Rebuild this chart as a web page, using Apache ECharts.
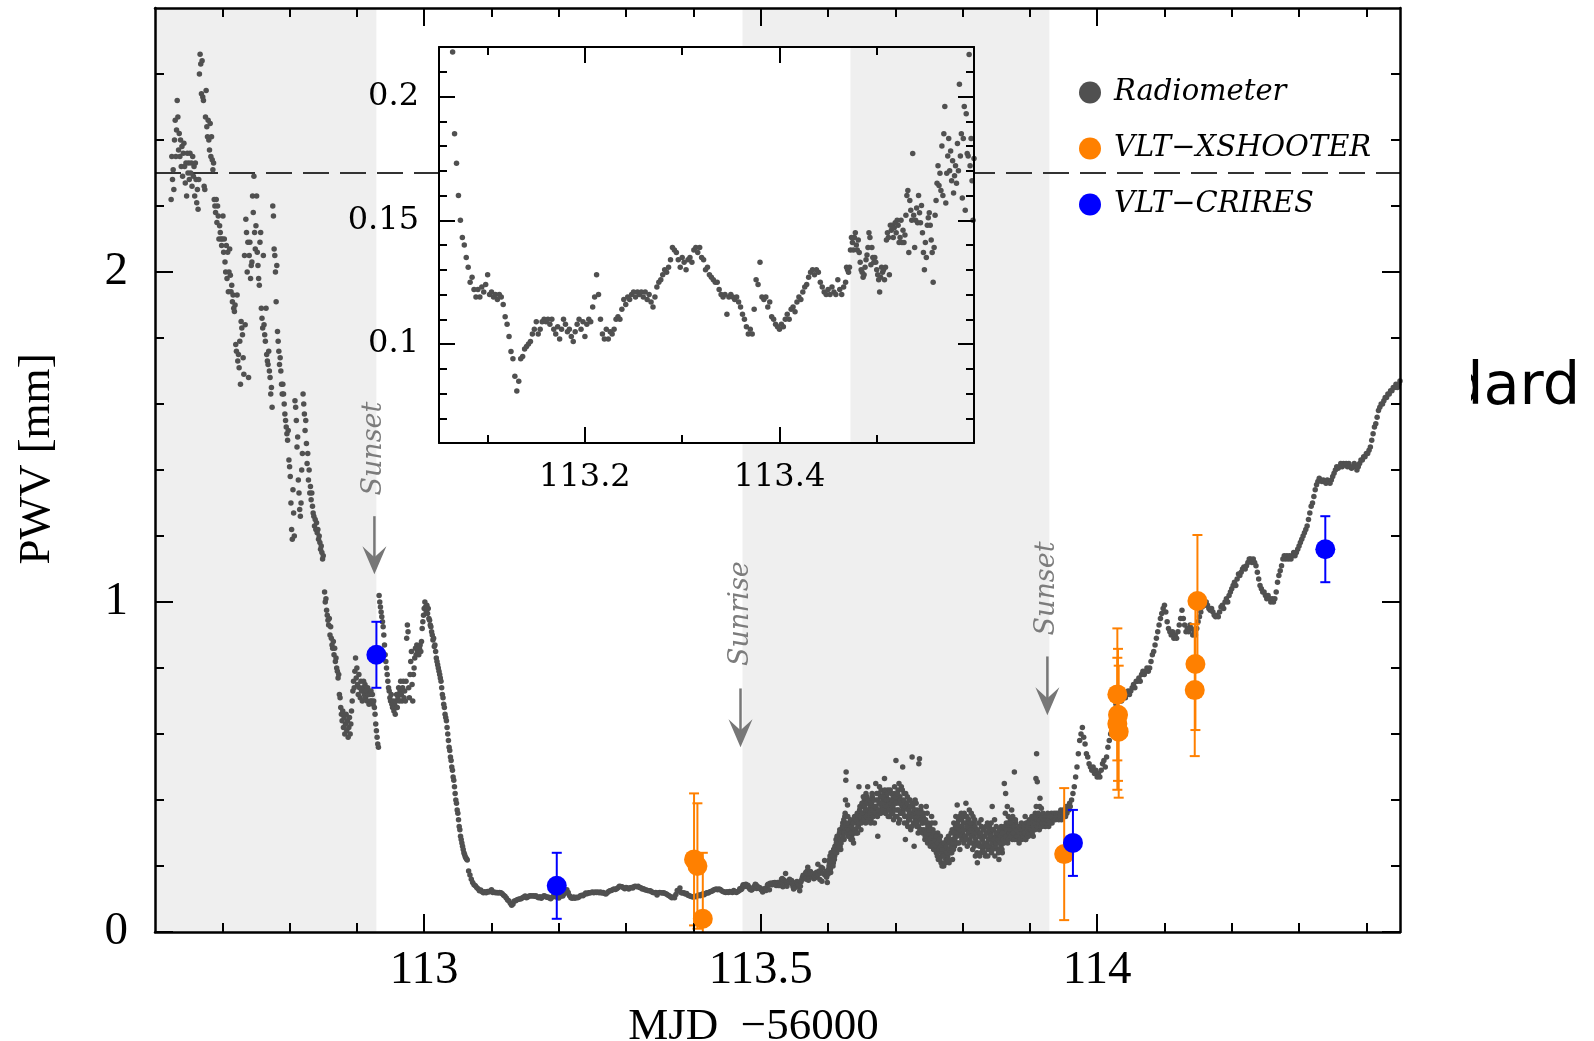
<!DOCTYPE html>
<html>
<head>
<meta charset="utf-8">
<title>PWV radiometer vs VLT spectrographs</title>
<script src="https://cdn.jsdelivr.net/npm/echarts@6/dist/echarts.min.js"></script>
<style>
  html, body { margin: 0; padding: 0; background: #fff; }
  #chart { width: 1594px; height: 1041px; }
</style>
</head>
<body>
<div id="chart"></div>
<script>
// ---------------------------------------------------------------------------
// Radiometer PWV [mm], evenly sampled stretches (start MJD-56000, step, values)
// ---------------------------------------------------------------------------
const pwvA_t0 = 112.624, pwvA_dt = 0.001;
const pwvA = [
  2.22,2.35,2.28,2.31,2.25,2.40,2.46,2.35,2.43,2.52,
  2.47,2.37,2.42,2.35,2.40,2.32,2.38,2.29,2.36,2.39,
  2.32,2.27,2.33,2.23,2.36,2.30,2.33,2.28,2.36,2.30,
  2.33,2.26,2.35,2.29,2.32,2.23,2.33,2.28,2.21,2.25,
  2.19,2.28,2.60,2.66,2.63,2.54,2.64,2.53,2.52,2.26,
  2.25,2.47,2.55,2.44,2.41,2.46,2.40,2.37,2.45,2.35,
  2.41,2.34,2.31,2.33,2.22,2.20,2.18,2.22,2.15,2.20,
  2.17,2.10,2.14,2.12,2.10,2.08
];

const pwvB_t0 = 112.700, pwvB_dt = 0.001;
const pwvB = [
  2.10,2.17,2.06,2.10,2.03,2.00,2.08,1.98,2.06,1.94,
  2.00,2.07,1.99,1.94,1.96,1.91,1.93,1.89,1.88,1.90,
  1.78,1.76,1.93,1.73,1.75,1.71,1.79,1.66,1.85,1.83,
  1.81,1.74,1.69,2.05,1.84,2.16,2.12,2.00,2.09,1.68,
  2.05,2.09,1.98,2.02,2.03,2.23,2.18,2.29,2.12,2.07,
  2.14,2.23,2.06,2.02,1.98,1.96,2.09,2.12,1.89,1.86,
  1.83,2.05,1.84,1.81,1.79,1.89,1.75,1.73,1.72,1.76,
  1.70,1.68,1.63,1.65,1.59,2.20,2.17,2.07,2.05,2.00,
  1.91,2.02,1.82,1.79,1.76,1.72,1.74,1.70,1.66,1.63,
  1.66,1.63,1.60,1.57,1.55,1.53,1.51,1.49,1.52,1.43,
  1.41,1.38,1.30,1.22,1.19,1.34,1.27,1.20,1.61,1.59,
  1.55,1.47,1.50,1.37,1.33,1.28,1.26,1.30,1.40,1.45,
  1.63,1.60,1.57,1.52,1.55,1.48,1.42,1.45,1.37,1.40,
  1.33,1.35,1.31,1.33,1.29,1.27,1.26,1.23,1.25,1.22,
  1.24,1.21,1.22,1.19,1.20,1.18,1.16,1.17,1.15,1.13,
  1.14
];

const pwvC_t0 = 112.852, pwvC_dt = 0.001;
const pwvC = [
  1.03,1.00,1.01,0.975,0.96,0.945,0.93,0.95,0.90,0.925,
  0.89,0.87,0.86,0.88,0.84,0.86,0.82,0.83,0.80,0.79,
  0.77,0.78,0.72,0.71,0.68,0.66,0.64,0.67,0.62,0.65,
  0.60,0.63,0.66,0.61,0.64,0.59,0.62,0.65,0.60,0.63,
  0.67,0.70,0.73,0.76,0.74,0.79,0.83,0.77,0.80,0.75,
  0.72,0.78,0.74,0.71,0.76,0.73,0.70,0.74,0.76,0.72,
  0.75,0.71,0.73,0.70,0.74,0.72,0.69,0.72,0.70,0.73,
  0.70,0.72,0.69,0.70,0.68,0.66,0.63,0.61,0.59,0.57,
  0.56,1.02,1.00,0.985,0.97,0.955,0.94,0.925,0.90,0.87,
  0.84,0.82,0.80,0.78,0.76,0.74,0.73,0.71,0.70,0.72,
  0.69,0.68,0.70,0.67,0.69,0.66,0.70,0.72,0.68,0.71,
  0.74,0.70,0.73,0.76,0.72,0.70,0.74,0.76,0.71,0.73,
  0.70,0.76,0.89,0.93,0.91,0.74,0.71,0.78,0.82,0.85,
  0.75,0.70,0.78,0.80,0.83,0.86,0.84,0.87,0.85,0.86,
  0.84,0.86,0.87,0.85,0.88,0.92,0.94,0.96,0.98,1.00,
  0.985,0.97,0.99,0.965,0.98,0.95,0.945,0.93,0.925,0.91,
  0.90,0.885,0.89,0.865,0.87,0.85,0.83,0.82,0.81,0.80,
  0.79,0.78,0.77,0.76,0.74,0.72,0.71,0.69,0.68,0.66,
  0.65,0.64,0.62,0.60,0.58,0.56,0.55,0.53,0.52,0.50,
  0.49,0.47,0.46,0.44,0.42,0.40,0.39,0.37,0.36,0.34,
  0.32,0.31,0.29,0.28,0.27,0.26,0.25,0.24,0.235,0.228,
  0.224,0.221
];

const pwvD_t0 = 113.064, pwvD_dt = 0.002;
const pwvD = [
  0.218,0.185,0.173,0.160,0.150,0.143,0.140,0.135,0.131,0.125,
  0.127,0.122,0.119,0.122,0.119,0.123,0.121,0.124,0.128,0.120,
  0.121,0.119,0.120,0.118,0.120,0.119,0.116,0.111,0.108,0.103,
  0.097,0.094,0.087,0.081,0.085,0.094,0.095,0.098,0.099,0.100,
  0.101,0.104,0.106,0.109,0.104,0.106,0.109,0.110,0.109,0.110,
  0.108,0.110,0.106,0.104,0.107,0.102,0.106,0.110,0.108,0.105,
  0.106,0.103,0.101,0.105,0.108,0.110,0.106,0.109,0.103,0.108,
  0.110,0.109,0.115,0.119,0.128,0.120,0.110,0.104,0.102,0.106,
  0.102,0.105,0.104,0.106,0.110,0.111,0.110,0.114,0.118,0.116,
  0.119,0.118,0.120,0.121,0.119,0.121,0.120,0.121,0.119,0.121,
  0.118,0.120,0.117,0.115,0.119,0.123,0.125,0.126,0.128,0.130,
  0.129,0.131,0.134,0.139,0.138,0.137,0.134,0.131,0.135,0.133,
  0.130,0.134,0.135,0.133,0.138,0.139,0.137,0.139,0.135,0.134,
  0.130,0.131,0.128,0.127,0.126,0.125,0.125,0.122,0.120,0.119,
  0.120,0.112,0.119,0.120,0.119,0.118,0.119,0.117,0.115,0.112,
  0.110,0.107,0.104,0.106,0.104,0.114,0.126,0.124,0.133,0.119,
  0.118,0.119,0.115,0.117,0.111,0.110,0.108,0.107,0.106,0.108,
  0.107,0.110,0.112,0.110,0.114,0.115,0.113,0.117,0.119,0.118,
  0.121,0.123,0.124,0.127,0.129,0.130,0.128,0.130,0.129,0.125,
  0.123,0.121,0.120,0.122,0.120,0.123,0.121,0.120,0.126,0.122,
  0.120,0.123,0.125
];

const pwvE_t0 = 113.469, pwvE_dt = 0.001;
const pwvE = [
  0.131,0.130,0.129,0.131,0.138,0.143,0.141,0.138,0.143,0.145,
  0.140,0.138,0.142,0.137,0.133,0.130,0.129,0.127,0.128,0.131,
  0.134,0.136,0.139,0.145,0.143,0.132,0.139,0.135,0.133,0.135,
  0.133,0.130,0.128,0.126,0.121,0.127,0.131,0.129,0.130,0.126,
  0.131,0.142,0.145,0.143,0.128,0.148,0.146,0.148,0.143,0.147,
  0.149,0.145,0.150,0.148,0.141,0.143,0.150,0.141,0.146,0.141,
  0.144,0.152,0.160,0.162,0.137,0.158,0.154,0.150,0.177,0.152,
  0.139,0.150,0.155,0.149,0.160,0.153,0.149,0.156,0.145,0.137,
  0.130,0.141,0.135,0.148,0.151,0.153,0.148,0.142,0.137,0.125,
  0.139,0.152,0.158,0.165,0.172,0.164,0.169,0.162,0.180,0.160,
  0.185,0.196,0.157,0.169,0.176,0.183,0.170,0.178,0.166,0.174,
  0.161,0.168,0.172,0.165,0.181,0.170,0.205,0.176,0.185,0.159,
  0.183,0.196,0.154,0.193,0.177,0.176,0.217,0.172,0.183,0.166,
  0.150,0.175,
  0.19,0.21,0.23,0.18,0.20,0.24,0.22,0.21,0.25,0.23,
  0.26,0.28,0.24,0.25,0.29,0.27,0.30,0.26,0.25,0.28,
  0.30,0.33,0.31,0.28,0.35,0.40,0.485,0.32,0.385,0.29,
  0.32,0.33,0.30,0.28,0.29,0.33,0.31,0.27,0.30,0.34,
  0.31,0.35,0.33,0.30,0.32,0.44,0.37,0.34,0.31,0.36,
  0.38,0.35,0.36,0.40,0.39,0.33,0.37,0.41,0.44,0.36,
  0.35,0.39,0.38,0.34,0.37,0.41,0.40,0.36,0.33,0.38,
  0.45,0.40,0.37,0.29,0.42,0.39,0.36,0.41,0.43,0.38,
  0.37,0.40,0.42,0.465,0.38,0.36,0.41,0.39,0.43,0.37,
  0.40,0.35,0.38,0.42,0.37,0.36,0.41,0.39,0.44,0.35,
  0.52,0.40,0.37,0.43,0.33,0.39,0.41,0.36,0.44,0.38,
  0.50,0.37,0.42,0.35,0.28,0.39,0.33,0.41,0.38,0.34,
  0.36,0.40,0.31,0.35,0.53,0.38,0.33,0.26,0.37,0.34,
  0.39,0.32,0.36,0.30,0.51,0.525,0.34,0.37,0.31,0.35,
  0.33,0.36,0.30,0.28,0.34,0.38,0.31,0.27,0.33,0.29,
  0.32,0.26,0.30,0.35,0.28,0.31,0.25,0.29,0.33,0.27,
  0.24,0.28,0.30,0.22,0.26,0.25,0.29,0.21,0.27,0.23,
  0.26,0.20,0.24,0.27,0.22,0.28,0.25,0.23,0.29,0.21,
  0.25,0.27,0.30,0.24,0.22,0.28,0.33,0.26,0.29,0.35,
  0.31,0.385,0.27,0.34,0.30,0.25,0.32,0.36,0.28,0.30,
  0.33,0.27,0.35,0.29,0.39,0.31,0.26,0.34,0.30,0.37,
  0.28,0.32,0.36,0.30,0.25,0.33,0.29,0.34,0.23,0.31,
  0.27,0.21,0.30,0.33,0.26,0.29,0.24,0.32,0.28,0.25,
  0.29,0.31,0.26,0.23,0.30,0.27,0.33,0.25,0.28,0.32,
  0.26,0.30,0.24,0.38,0.28,0.31,0.27,0.23,0.29,0.32,
  0.27,0.25,0.30,0.22,0.28,0.31,0.26,0.29,0.24,0.27,
  0.31,0.45,0.28,0.42,0.33,0.30,0.27,0.35,0.32,0.29,
  0.34,0.30,0.37,0.28,0.32,0.31,0.485,0.29,0.33,0.30,
  0.28,0.31,0.30,0.27,0.32,0.29,0.31,0.28,0.30,0.32,
  0.29,0.31,0.35,0.28,0.30,0.33,0.31,0.29,0.34,0.32,
  0.30,0.33,0.35,0.31,0.29,0.34,0.32,0.36,0.465,0.54,
  0.455,0.33,0.35,0.31,0.405,0.34,0.375,0.32,0.34,0.33,
  0.33,0.35,0.32,0.34,0.33,0.35,0.34,0.32,0.35,0.33,
  0.34,0.36,0.33,0.35,0.34,0.36,0.35,0.34,0.36,0.35,
  0.35,0.36,0.34,0.36,0.35,0.37,0.34,0.36,0.35,0.37,
  0.36,0.37,0.35,0.38,0.36,0.37,0.38,0.37,0.39,0.38
];

// second read-out channel interleaved with the noisy evening stretch
const pwvE2_t0 = 113.6015, pwvE2_dt = 0.001;
const pwvE2 = [
  0.20,0.22,0.19,0.24,0.21,0.23,0.20,0.25,0.22,0.26,
  0.24,0.27,0.29,0.25,0.28,0.26,0.31,0.28,0.27,0.30,
  0.32,0.29,0.34,0.30,0.36,0.46,0.33,0.30,0.35,0.31,
  0.29,0.31,0.34,0.30,0.32,0.28,0.33,0.30,0.35,0.31,
  0.34,0.30,0.36,0.32,0.35,0.33,0.38,0.35,0.33,0.39,
  0.36,0.41,0.34,0.38,0.37,0.42,0.35,0.39,0.37,0.34,
  0.40,0.36,0.33,0.39,0.42,0.37,0.35,0.40,0.38,0.36,
  0.38,0.42,0.35,0.40,0.37,0.44,0.39,0.36,0.41,0.39,
  0.41,0.37,0.39,0.43,0.36,0.40,0.38,0.42,0.35,0.40,
  0.37,0.43,0.39,0.36,0.40,0.38,0.34,0.42,0.37,0.41,
  0.39,0.35,0.42,0.37,0.45,0.34,0.40,0.36,0.39,0.43,
  0.36,0.40,0.33,0.38,0.42,0.35,0.39,0.32,0.37,0.40,
  0.34,0.38,0.36,0.32,0.39,0.35,0.37,0.33,0.40,0.36,
  0.33,0.37,0.35,0.32,0.36,0.31,0.34,0.38,0.33,0.30,
  0.35,0.31,0.34,0.29,0.33,0.30,0.36,0.32,0.28,0.31,
  0.28,0.31,0.27,0.33,0.29,0.26,0.30,0.28,0.25,0.29,
  0.26,0.23,0.27,0.25,0.28,0.22,0.26,0.24,0.20,0.25,
  0.23,0.27,0.25,0.21,0.26,0.24,0.28,0.22,0.25,0.27,
  0.28,0.24,0.26,0.31,0.27,0.25,0.30,0.28,0.32,0.27,
  0.29,0.33,0.30,0.27,0.35,0.31,0.29,0.34,0.32,0.28,
  0.31,0.36,0.29,0.33,0.28,0.35,0.32,0.30,0.34,0.27,
  0.33,0.29,0.31,0.27,0.35,0.30,0.26,0.32,0.28,0.30,
  0.24,0.31,0.27,0.29,0.23,0.30,0.34,0.26,0.28,0.31,
  0.27,0.24,0.29,0.32,0.26,0.30,0.23,0.28,0.31,0.26,
  0.29,0.33,0.27,0.25,0.31,0.28,0.34,0.26,0.30,0.27,
  0.30,0.28,0.24,0.31,0.27,0.29,0.32,0.25,0.30,0.28,
  0.27,0.32,0.36,0.29,0.31,0.38,0.28,0.33,0.30,0.31,
  0.29,0.33,0.31,0.35,0.30,0.32,0.28,0.34,0.31,0.29,
  0.31,0.29,0.32,0.30,0.28,0.31,0.33,0.30,0.29,0.31,
  0.32,0.30,0.28,0.33,0.31,0.29,0.32,0.30,0.33,0.31,
  0.31,0.34,0.30,0.33,0.32,0.35,0.31,0.33,0.38,0.34,
  0.32,0.36,0.33,0.38,0.34,0.32,0.35,0.33,0.36,0.34,
  0.34,0.33,0.35,0.33,0.34,0.36,0.34,0.35,0.33,0.35
];

const pwvF_t0 = 113.962, pwvF_dt = 0.002;
const pwvF = [
  0.40,0.42,0.44,0.47,0.50,0.54,0.58,0.60,0.62,0.59,
  0.57,0.54,0.53,0.51,0.50,0.49,0.50,0.48,0.49,0.47,
  0.48,0.47,0.49,0.51,0.52,0.50,0.53,0.56,0.58,0.60,
  0.64,0.66,0.67,0.69,0.70,0.70,0.71,0.70,0.71,0.72,
  0.71,0.72,0.73,0.72,0.73,0.74,0.75,0.74,0.76,0.76,
  0.77,0.76,0.78,0.79,0.78,0.79,0.80,0.79,0.80,0.82,
  0.84,0.85,0.87,0.89,0.91,0.93,0.95,0.965,0.98,0.99,
  0.97,0.94,0.92,0.91,0.90,0.91,0.89,0.90,0.89,0.91,
  0.93,0.95,0.975,0.95,0.93,0.91,0.92,0.91,0.93,0.92,
  0.90,0.91,0.90,0.92,0.94,0.955,0.97,0.985,1.00,0.99,
  1.00,0.99,0.98,0.975,0.98,0.97,0.96,0.955,0.96,0.955,
  0.97,0.985,0.99,0.98,1.00,1.01,1.00,1.02,1.03,1.04,
  1.05,1.06,1.05,1.07,1.085,1.08,1.09,1.10,1.106,1.10,
  1.11,1.12,1.13,1.13,1.12,1.13,1.12,1.11,1.09,1.07,
  1.05,1.04,1.03,1.03,1.02,1.01,1.02,1.01,1.00,1.01,
  1.00,1.01,1.03,1.06,1.08,1.095,1.11,1.13,1.14,1.13,
  1.14,1.13,1.14,1.13,1.14,1.15,1.14,1.15,1.16,1.17,
  1.18,1.19,1.20,1.21,1.22,1.23,1.25,1.27,1.29,1.30,
  1.32,1.34,1.355,1.365,1.375,1.37,1.365,1.37,1.365,1.36,
  1.37,1.365,1.36,1.37,1.38,1.39,1.40,1.41,1.405,1.41,
  1.42,1.41,1.42,1.415,1.42,1.41,1.42,1.41,1.405,1.41,
  1.42,1.41,1.40,1.41,1.42,1.43,1.43,1.44,1.44,1.45,
  1.45,1.46,1.47,1.49,1.51,1.53,1.54,1.56,1.58,1.59,
  1.60,1.60,1.61,1.62,1.62,1.63,1.63,1.64,1.64,1.65,
  1.65,1.66,1.65,1.66,1.67
];

// VLT-XSHOOTER retrievals: [MJD-56000, PWV, 1-sigma]
const xshooterPoints = [
  [113.401, 0.22, 0.20], [113.406, 0.20, 0.19], [113.414, 0.04, 0.20],
  [113.951, 0.236, 0.20],
  [114.030, 0.72, 0.20], [114.031, 0.658, 0.20], [114.030, 0.631, 0.20], [114.032, 0.607, 0.20],
  [114.149, 1.003, 0.20], [114.146, 0.812, 0.20], [114.145, 0.733, 0.20]
];
// VLT-CRIRES retrievals: [MJD-56000, PWV, 1-sigma]
const criresPoints = [
  [112.929, 0.84, 0.10], [113.197, 0.14, 0.10], [113.964, 0.27, 0.10], [114.339, 1.16, 0.10]
];

// Daylight intervals (shaded) and sun events
const daylightSpans = [[112.6, 112.929], [113.473, 113.929]];
const sunEventTimes = [112.929, 113.473, 113.929];
const sunEventNames = ['Sunset', 'Sunrise', 'Sunset'];
const pwvLimit = 2.3;

// Axis ranges and tick values
const xRange = [112.6, 114.45];
const yRange = [0, 2.8];
const xMajorTicks = [113, 113.5, 114];
const xMinorTicks = [112.7, 112.8, 112.9, 113.1, 113.2, 113.3, 113.4, 113.6, 113.7, 113.8, 113.9, 114.1, 114.2, 114.3, 114.4];
const yMajorTicks = [0, 1, 2];
const yMinorTicks = [0.2, 0.4, 0.6, 0.8, 1.2, 1.4, 1.6, 1.8, 2.2, 2.4, 2.6];

const insetXRange = [113.05, 113.6];
const insetYRange = [0.06, 0.22];
const insetXMajorTicks = [113.2, 113.4];
const insetXMinorTicks = [113.1, 113.3, 113.5];
const insetYMajorTicks = [0.1, 0.15, 0.2];
const insetYMinorTicks = [0.07, 0.08, 0.09, 0.11, 0.12, 0.13, 0.14, 0.16, 0.17, 0.18, 0.19, 0.21];

// Placement of the sun-event annotations (PWV units): label centre, arrow tail, arrow tip
const sunAnnotationLayout = [
  { label: 1.465, tail: 1.26, tip: 1.084 },
  { label: 0.965, tail: 0.738, tip: 0.56 },
  { label: 1.041, tail: 0.835, tip: 0.657 }
];

// ---------------------------------------------------------------------------
function expand(t0, dt, vals) {
  return vals.map((v, i) => [Math.round((t0 + i * dt) * 1e5) / 1e5, v]);
}
const radiometer = [].concat(
  expand(pwvA_t0, pwvA_dt, pwvA),
  expand(pwvB_t0, pwvB_dt, pwvB),
  expand(pwvC_t0, pwvC_dt, pwvC),
  expand(pwvD_t0, pwvD_dt, pwvD),
  expand(pwvE_t0, pwvE_dt, pwvE),
  expand(pwvE2_t0, pwvE2_dt, pwvE2),
  expand(pwvF_t0, pwvF_dt, pwvF)
);

const SERIF = "'Liberation Serif', 'Times New Roman', serif";
const DJSERIF = "'DejaVu Serif', serif";
const GREY_DOT = '#505050';
const ORANGE = '#ff8000';
const BLUE = '#0000ff';

function makeAxis(grid, position, range, ticks, tickLen, opts) {
  opts = opts || {};
  const ax = {
    type: 'value', gridIndex: grid, position: position,
    min: range[0], max: range[1],
    z: opts.z || 5,
    axisLine: { show: !!opts.line, onZero: false, lineStyle: { color: '#000', width: opts.lineWidth || 2.5 } },
    axisTick: { show: true, inside: true, length: tickLen, customValues: ticks,
                lineStyle: { color: '#000', width: 2 } },
    axisLabel: { show: false },
    splitLine: { show: false },
    minorTick: { show: false },
    axisPointer: { show: false }
  };
  if (opts.labels) {
    ax.axisLabel = Object.assign({ show: true, customValues: opts.labels, color: '#000' }, opts.labelStyle);
  }
  if (opts.name) {
    Object.assign(ax, opts.name);
  }
  return ax;
}

const mainLabel = { fontFamily: SERIF, fontSize: 47 };
const insetLabel = { fontFamily: DJSERIF, fontSize: 32 };

const xAxes = [
  // main grid
  makeAxis(0, 'bottom', xRange, xMajorTicks, 18, {
    line: true, labels: xMajorTicks, labelStyle: Object.assign({ margin: 15 }, mainLabel),
    name: { name: 'MJD  \u221256000', nameLocation: 'middle', nameGap: 73,
            nameTextStyle: { fontFamily: SERIF, fontSize: 45, color: '#000', padding: [0, 48, 0, 0] } }
  }),
  makeAxis(0, 'bottom', xRange, xMinorTicks, 9),
  makeAxis(0, 'top', xRange, xMajorTicks, 18, { line: true }),
  makeAxis(0, 'top', xRange, xMinorTicks, 9),
  // inset grid
  makeAxis(1, 'bottom', insetXRange, insetXMajorTicks, 16, {
    line: true, lineWidth: 2, z: 70, labels: insetXMajorTicks, labelStyle: Object.assign({ margin: 19 }, insetLabel)
  }),
  makeAxis(1, 'bottom', insetXRange, insetXMinorTicks, 8, { z: 70 }),
  makeAxis(1, 'top', insetXRange, insetXMajorTicks, 16, { line: true, lineWidth: 2, z: 70 }),
  makeAxis(1, 'top', insetXRange, insetXMinorTicks, 8, { z: 70 })
];

const yAxes = [
  makeAxis(0, 'left', yRange, yMajorTicks, 18, {
    line: true, labels: yMajorTicks, labelStyle: Object.assign({ margin: 27 }, mainLabel),
    name: { name: 'PWV [mm]', nameLocation: 'middle', nameGap: 95, nameRotate: 90,
            nameTextStyle: { fontFamily: SERIF, fontSize: 45, color: '#000', padding: [0, 0, 0, 22] } }
  }),
  makeAxis(0, 'left', yRange, yMinorTicks, 9),
  makeAxis(0, 'right', yRange, yMajorTicks, 18, { line: true }),
  makeAxis(0, 'right', yRange, yMinorTicks, 9),
  makeAxis(1, 'left', insetYRange, insetYMajorTicks, 16, {
    line: true, lineWidth: 2, z: 70, labels: insetYMajorTicks, labelStyle: Object.assign({ margin: 20 }, insetLabel)
  }),
  makeAxis(1, 'left', insetYRange, insetYMinorTicks, 8, { z: 70 }),
  makeAxis(1, 'right', insetYRange, insetYMajorTicks, 16, { line: true, lineWidth: 2, z: 70 }),
  makeAxis(1, 'right', insetYRange, insetYMinorTicks, 8, { z: 70 })
];

// shaded daylight bands, clamped to the plotting area; optional white backing
function bandRenderer(withBacking) {
  return function (params, api) {
    const cs = params.coordSys;
    const children = [];
    if (withBacking && params.dataIndex === 0) {
      children.push({ type: 'rect', shape: { x: cs.x, y: cs.y, width: cs.width, height: cs.height },
                      style: { fill: '#ffffff' } });
    }
    let x0 = api.coord([api.value(0), 0])[0];
    let x1 = api.coord([api.value(1), 0])[0];
    x0 = Math.max(x0, cs.x);
    x1 = Math.min(x1, cs.x + cs.width);
    if (x1 > x0) {
      children.push({ type: 'rect', shape: { x: x0, y: cs.y, width: x1 - x0, height: cs.height },
                      style: { fill: '#efefef' } });
    }
    return { type: 'group', children: children };
  };
}

function errorBarRenderer(color) {
  return function (params, api) {
    const cs = params.coordSys;
    const x = api.value(0), y = api.value(1), e = api.value(2);
    const top = api.coord([x, y + e]);
    const bot = api.coord([x, y - e]);
    const px = top[0];
    const lo = cs.y, hi = cs.y + cs.height;
    const style = { stroke: color, lineWidth: 2 };
    const children = [{ type: 'line', shape: { x1: px, y1: Math.max(top[1], lo), x2: px, y2: Math.min(bot[1], hi) }, style: style }];
    if (top[1] >= lo) children.push({ type: 'line', shape: { x1: px - 5, y1: top[1], x2: px + 5, y2: top[1] }, style: style });
    if (bot[1] <= hi) children.push({ type: 'line', shape: { x1: px - 5, y1: bot[1], x2: px + 5, y2: bot[1] }, style: style });
    return { type: 'group', children: children };
  };
}

function sunEventRenderer(params, api) {
  const i = params.dataIndex;
  const t = api.value(0);
  const lay = sunAnnotationLayout[i];
  const tip = api.coord([t, lay.tip]);
  const tail = api.coord([t, lay.tail]);
  const lab = api.coord([t, lay.label]);
  const x = tip[0] - 2;
  const col = '#777777';
  return {
    type: 'group',
    children: [
      { type: 'line', shape: { x1: x, y1: tail[1], x2: x, y2: tip[1] - 16 }, style: { stroke: col, lineWidth: 2.5 } },
      { type: 'polygon', shape: { points: [[x, tip[1]], [x - 12, tip[1] - 28], [x, tip[1] - 17], [x + 12, tip[1] - 28]] },
        style: { fill: col } },
      { type: 'text', x: x, y: lab[1], rotation: Math.PI / 2,
        style: { text: sunEventNames[i], fill: '#7c7c7c', font: 'italic 27px "DejaVu Serif"',
                 align: 'center', verticalAlign: 'middle' } }
    ]
  };
}

const option = {
  animation: false,
  backgroundColor: '#ffffff',
  grid: [
    { left: 155, top: 8, width: 1245, height: 924, show: false, containLabel: false, outerBoundsMode: 'none' },
    { left: 439, top: 47, width: 535, height: 396, show: false, containLabel: false, outerBoundsMode: 'none' }
  ],
  xAxis: xAxes,
  yAxis: yAxes,
  legend: {
    data: ['Radiometer', 'VLT\u2212XSHOOTER', 'VLT\u2212CRIRES'],
    orient: 'vertical', left: 1074, top: 73,
    itemWidth: 22, itemHeight: 22, itemGap: 27,
    icon: 'circle', selectedMode: false,
    textStyle: { fontFamily: DJSERIF, fontStyle: 'italic', fontSize: 29, color: '#000',
                 padding: [0, 0, 0, 8] }
  },
  series: [
    { name: 'daylight', type: 'custom', xAxisIndex: 0, yAxisIndex: 0, z: 1, silent: true,
      data: daylightSpans, renderItem: bandRenderer(false) },
    { name: 'limit', type: 'line', xAxisIndex: 0, yAxisIndex: 0, z: 2, silent: true, symbol: 'none',
      data: [[xRange[0], pwvLimit], [xRange[1], pwvLimit]],
      lineStyle: { color: '#333333', width: 2, type: [26, 11] } },
    { name: 'Radiometer', type: 'scatter', xAxisIndex: 0, yAxisIndex: 0, z: 3,
      symbol: 'circle', symbolSize: 5.5, itemStyle: { color: GREY_DOT, opacity: 1 }, data: radiometer, large: false },
    { name: 'xshooterErr', type: 'custom', xAxisIndex: 0, yAxisIndex: 0, z: 4, silent: true,
      data: xshooterPoints, renderItem: errorBarRenderer(ORANGE) },
    { name: 'VLT\u2212XSHOOTER', type: 'scatter', xAxisIndex: 0, yAxisIndex: 0, z: 5,
      symbol: 'circle', symbolSize: 20, itemStyle: { color: ORANGE, opacity: 1 },
      data: xshooterPoints.map(p => [p[0], p[1]]) },
    { name: 'criresErr', type: 'custom', xAxisIndex: 0, yAxisIndex: 0, z: 6, silent: true,
      data: criresPoints, renderItem: errorBarRenderer(BLUE) },
    { name: 'VLT\u2212CRIRES', type: 'scatter', xAxisIndex: 0, yAxisIndex: 0, z: 7,
      symbol: 'circle', symbolSize: 20, itemStyle: { color: BLUE, opacity: 1 },
      data: criresPoints.map(p => [p[0], p[1]]) },
    { name: 'sunEvents', type: 'custom', xAxisIndex: 0, yAxisIndex: 0, z: 8, silent: true,
      data: sunEventTimes.map(t => [t, 0]), renderItem: sunEventRenderer },
    // inset: zoom on the driest hours
    { name: 'insetDaylight', type: 'custom', xAxisIndex: 4, yAxisIndex: 4, z: 50, silent: true,
      data: daylightSpans, renderItem: bandRenderer(true) },
    { name: 'insetRadiometer', type: 'scatter', xAxisIndex: 4, yAxisIndex: 4, z: 55, clip: true,
      symbol: 'circle', symbolSize: 5.5, itemStyle: { color: GREY_DOT, opacity: 1 }, data: radiometer, large: false }
  ],
  graphic: [
    { type: 'text', z: 100, x: 1446, y: 389,
      style: { text: 'dard', font: '59px "DejaVu Sans"', fill: '#000', verticalAlign: 'middle' } },
    { type: 'rect', z: 101, shape: { x: 1420, y: 340, width: 51, height: 95 }, style: { fill: '#ffffff' } }
  ]
};

const chart = echarts.init(document.getElementById('chart'), null, { renderer: 'canvas' });
chart.setOption(option);
</script>
</body>
</html>
